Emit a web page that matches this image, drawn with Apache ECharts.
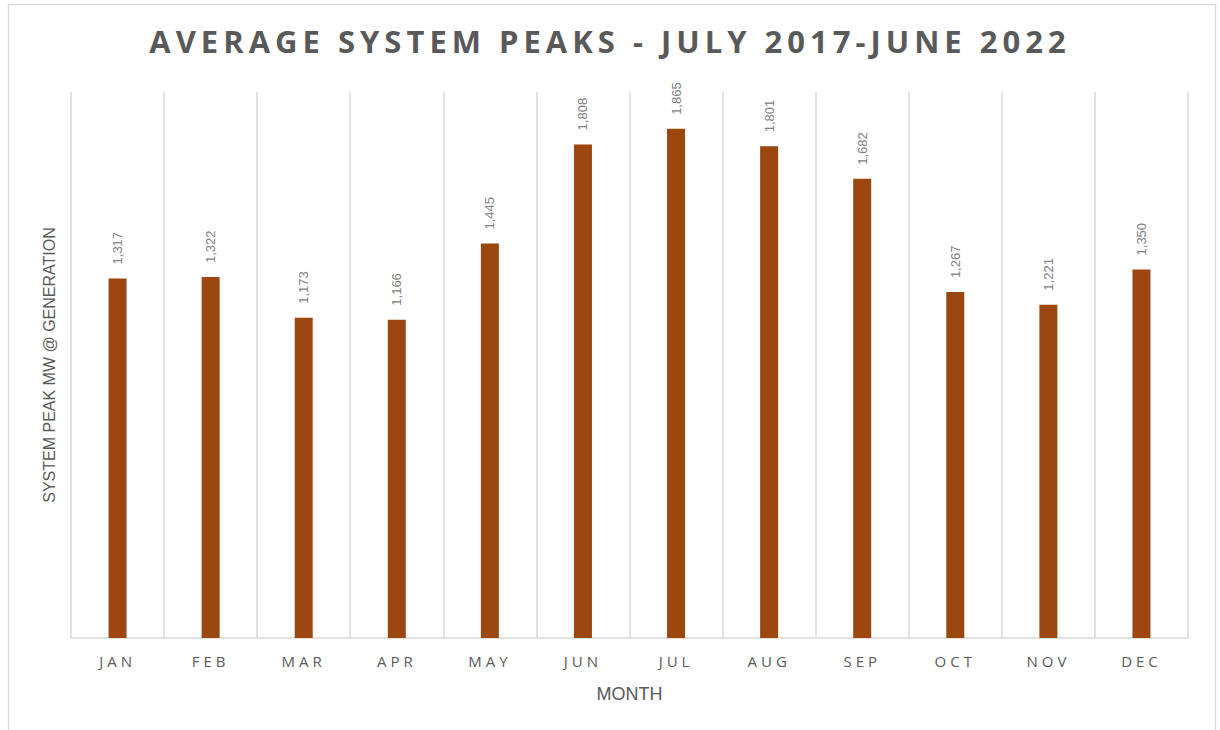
<!DOCTYPE html>
<html>
<head>
<meta charset="utf-8">
<script src="https://cdn.jsdelivr.net/npm/echarts@6/dist/echarts.min.js"></script>
<style>
  html, body { margin: 0; padding: 0; background: #fff; }
  #chart { width: 1220px; height: 730px; }
</style>
</head>
<body>
<div id="chart"></div>
<script>
const titleText = 'AVERAGE SYSTEM PEAKS - JULY 2017-JUNE 2022'
const months = ['JAN', 'FEB', 'MAR', 'APR', 'MAY', 'JUN', 'JUL', 'AUG', 'SEP', 'OCT', 'NOV', 'DEC']
const peaks = [1317, 1322, 1173, 1166, 1445, 1808, 1865, 1801, 1682, 1267, 1221, 1350]

// svg renderer so the spaced-out title / month labels can get css letter-spacing
const chart = echarts.init(document.getElementById('chart'), null, { renderer: 'svg' })

const option = {
  backgroundColor: '#fff',
  animation: false,
  title: {
    text: titleText,
    left: 'center',
    top: 20,
    textStyle: {
      fontFamily: 'Open Sans',
      fontWeight: 'bold',
      fontSize: 31,
      color: '#595959'
    }
  },
  graphic: [{
    type: 'rect',
    shape: { x: 8.5, y: 4.5, width: 1207, height: 760 },
    style: { fill: 'none', stroke: '#d9d9d9', lineWidth: 1.5 },
    silent: true
  }],
  grid: {
    left: 71,
    right: 32,
    top: 92,
    bottom: 92
  },
  xAxis: {
    type: 'category',
    data: months,
    name: 'MONTH',
    nameLocation: 'middle',
    nameGap: 47,
    nameTextStyle: {
      fontFamily: 'Liberation Sans',
      fontSize: 18,
      color: '#595959'
    },
    axisLine: { lineStyle: { color: '#d9d9d9', width: 1.5 } },
    axisTick: { show: false },
    axisLabel: {
      margin: 15,
      fontFamily: 'Open Sans',
      fontSize: 15,
      color: '#595959'
    },
    splitLine: { show: true, lineStyle: { color: '#d9d9d9', width: 1.5 } }
  },
  yAxis: {
    type: 'value',
    min: 0,
    max: 2000,
    name: 'SYSTEM PEAK MW @ GENERATION',
    nameLocation: 'middle',
    nameGap: 14,
    nameTextStyle: {
      fontFamily: 'Liberation Sans',
      fontSize: 16,
      color: '#595959'
    },
    axisLine: { show: false },
    axisTick: { show: false },
    axisLabel: { show: false },
    splitLine: { show: false }
  },
  series: [{
    type: 'bar',
    data: peaks,
    barWidth: 18,
    itemStyle: { color: '#9C4710' },
    label: {
      show: true,
      position: 'top',
      distance: 14,
      rotate: 90,
      align: 'left',
      verticalAlign: 'middle',
      fontFamily: 'Liberation Sans',
      fontSize: 13,
      color: '#808080',
      formatter: p => p.value.toLocaleString('en-US')
    }
  }]
}

function spaceLetters() {
  document.querySelectorAll('#chart svg text').forEach(t => {
    const s = t.textContent
    if (s === titleText) t.style.letterSpacing = '5px'
    else if (months.includes(s)) t.style.letterSpacing = '4px'
  })
}

chart.on('finished', spaceLetters)
chart.setOption(option)
spaceLetters()
</script>
</body>
</html>
